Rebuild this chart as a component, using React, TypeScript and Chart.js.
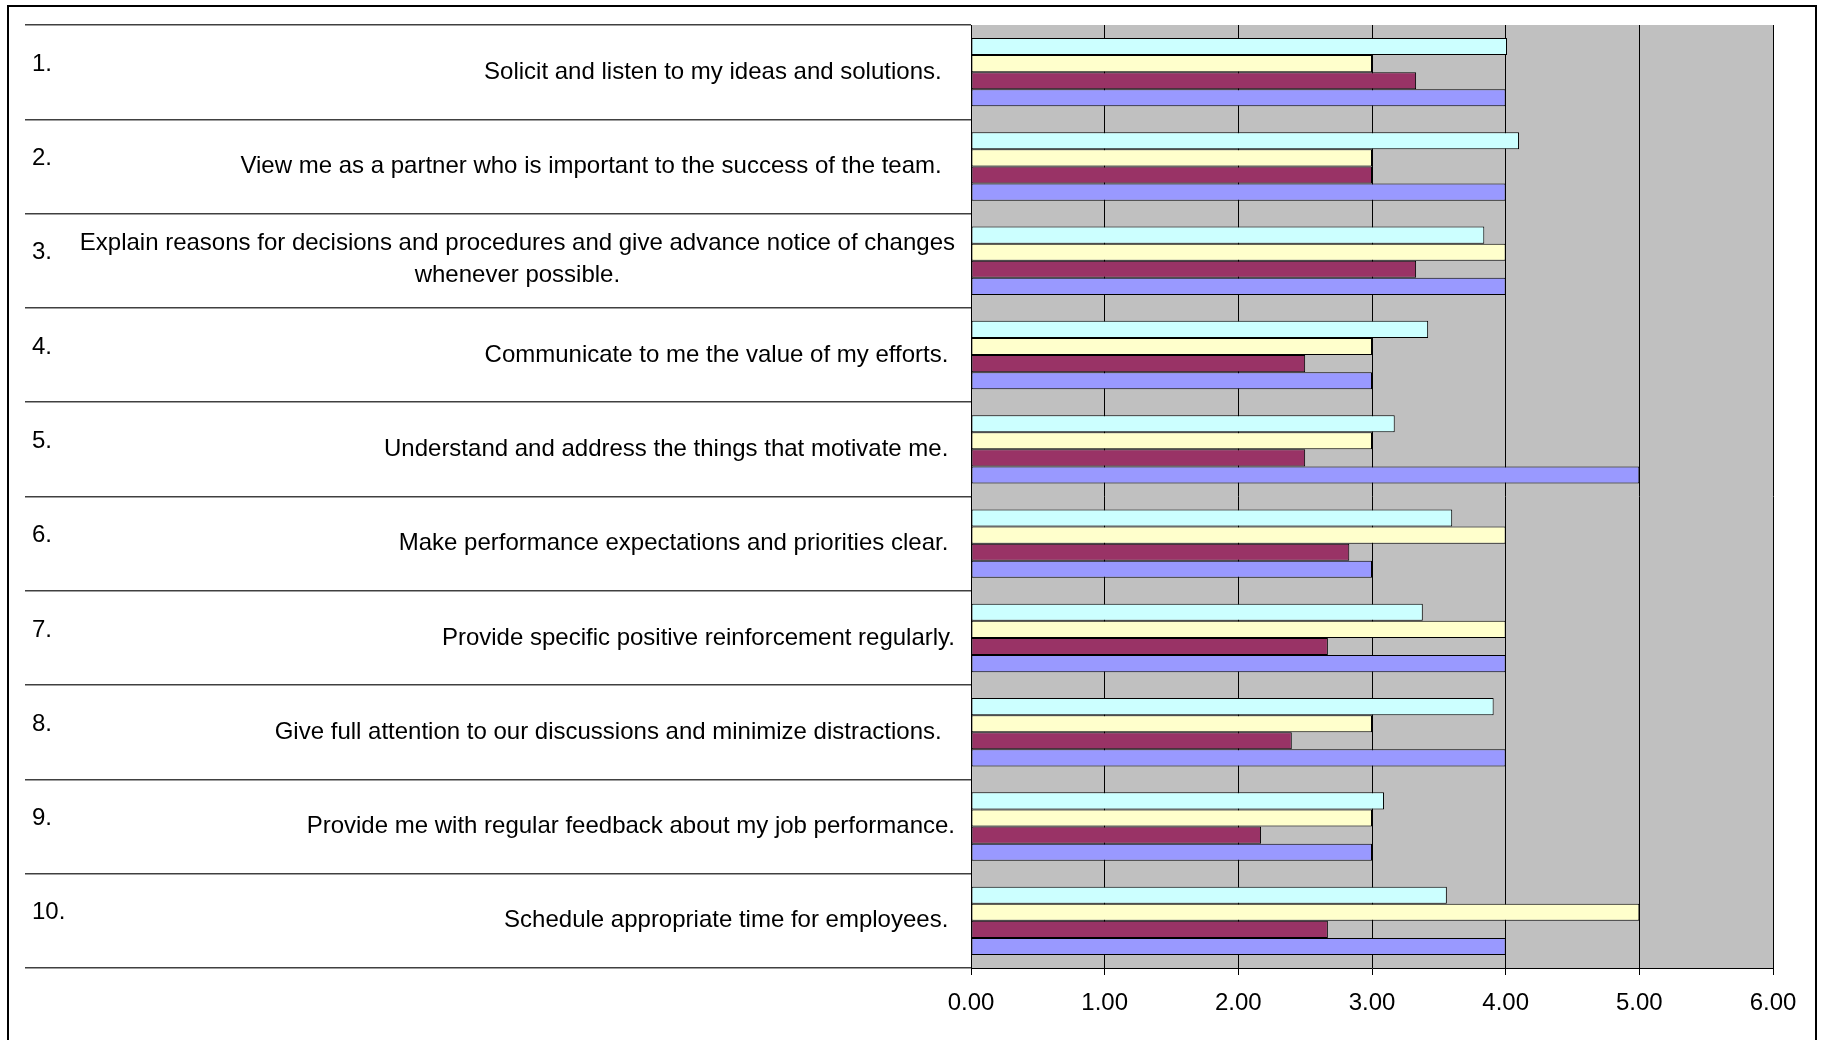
import { useEffect, useRef } from "react";
import { Chart, registerables } from "chart.js";

Chart.register(...registerables);

// Survey statements (numbered), one array of lines per item
const itemNumbers = ["1.", "2.", "3.", "4.", "5.", "6.", "7.", "8.", "9.", "10."];
const statements: string[][] = [
  ["Solicit and listen to my ideas and solutions.  "],
  ["View me as a partner who is important to the success of the team.  "],
  [
    "Explain reasons for decisions and procedures and give advance notice of changes",
    "whenever possible.",
  ],
  ["Communicate to me the value of my efforts. "],
  ["Understand and address the things that motivate me. "],
  ["Make performance expectations and priorities clear. "],
  ["Provide specific positive reinforcement regularly."],
  ["Give full attention to our discussions and minimize distractions.  "],
  ["Provide me with regular feedback about my job performance."],
  ["Schedule appropriate time for employees. "],
];

// Average ratings per group, in drawing order (top bar to bottom bar)
const seriesA = [4.01, 4.1, 3.84, 3.42, 3.17, 3.6, 3.38, 3.91, 3.09, 3.56];
const seriesB = [3.0, 3.0, 4.0, 3.0, 3.0, 4.0, 4.0, 3.0, 3.0, 5.0];
const seriesC = [3.33, 3.0, 3.33, 2.5, 2.5, 2.83, 2.67, 2.4, 2.17, 2.67];
const seriesD = [4.0, 4.0, 4.0, 3.0, 5.0, 3.0, 4.0, 4.0, 3.0, 4.0];

const seriesNames = ["Series1", "Series2", "Series3", "Series4"];
const seriesColors = ["#CCFFFF", "#FFFFCC", "#993366", "#9999FF"];

// Rating scale
const scaleMin = 0;
const scaleMax = 6;
const scaleStep = 1;

const FONT_FAMILY = "'Liberation Sans', Arial, sans-serif";
const W = 1822;
const H = 1040;

const plotBackground = {
  id: "plotBackground",
  beforeDraw(chart: any) {
    const { ctx, chartArea } = chart;
    ctx.save();
    ctx.fillStyle = "#C0C0C0";
    ctx.fillRect(
      chartArea.left,
      chartArea.top,
      chartArea.right - chartArea.left,
      chartArea.bottom - chartArea.top
    );
    ctx.restore();
  },
};

const statementLabels = {
  id: "statementLabels",
  afterDraw(chart: any) {
    const { ctx, chartArea } = chart;
    const yScale = chart.scales.y;
    const textRight = chartArea.left - 16;
    const lineHeight = 32;
    ctx.save();
    ctx.font = `24px ${FONT_FAMILY}`;
    ctx.fillStyle = "#000000";
    ctx.textBaseline = "middle";
    statements.forEach((lines, i) => {
      const cy = yScale.getPixelForValue(i);
      ctx.textAlign = "left";
      ctx.fillText(itemNumbers[i], 32, cy - 8);
      const blockWidth = Math.max(...lines.map((l) => ctx.measureText(l).width));
      const firstY = cy - ((lines.length - 1) * lineHeight) / 2 - (lines.length > 1 ? 1 : 0);
      ctx.textAlign = "center";
      lines.forEach((line, k) => {
        ctx.fillText(line, textRight - blockWidth / 2, firstY + k * lineHeight);
      });
    });
    // outer frame
    ctx.strokeStyle = "#000000";
    ctx.lineWidth = 2;
    ctx.strokeRect(8, 6, 1808, H + 20);
    ctx.restore();
  },
};

export default function App() {
  const canvasRef = useRef<HTMLCanvasElement | null>(null);

  useEffect(() => {
    const canvas = canvasRef.current;
    if (!canvas) return;
    const datasets = [seriesA, seriesB, seriesC, seriesD].map((values, i) => ({
      label: seriesNames[i],
      data: values,
      backgroundColor: seriesColors[i],
      borderColor: "#000000",
      borderWidth: 1,
      borderSkipped: false as const,
      categoryPercentage: 0.725,
      barPercentage: 1.0,
    }));

    const chart = new Chart(canvas, {
      type: "bar",
      data: { labels: itemNumbers, datasets },
      options: {
        indexAxis: "y",
        responsive: false,
        animation: false,
        devicePixelRatio: 1,
        layout: { padding: { top: 25, right: 49, bottom: 0, left: 0 } },
        plugins: {
          legend: { display: false },
          tooltip: { enabled: false },
          title: { display: false },
        },
        scales: {
          x: {
            type: "linear",
            min: scaleMin,
            max: scaleMax,
            afterFit: (s: any) => {
              s.height = 72;
            },
            ticks: {
              stepSize: scaleStep,
              color: "#000000",
              font: { family: FONT_FAMILY, size: 24 },
              padding: 14,
              callback: (v: any) => Number(v).toFixed(2),
            },
            grid: {
              color: "#000000",
              lineWidth: 1,
              tickLength: 7,
              drawOnChartArea: true,
            },
            border: { display: true, color: "#000000", width: 1 },
          },
          y: {
            type: "category",
            afterFit: (s: any) => {
              s.width = 971;
            },
            ticks: { display: false },
            grid: {
              offset: true,
              drawOnChartArea: false,
              tickLength: 946,
              color: "#404040",
              lineWidth: 1.5,
            },
            border: { display: true, color: "#000000", width: 1 },
          },
        },
      },
      plugins: [plotBackground, statementLabels],
    });

    return () => chart.destroy();
  }, []);

  return (
    <div style={{ position: "fixed", left: 0, top: 0, width: W, height: H, background: "#ffffff" }}>
      <canvas ref={canvasRef} width={W} height={H} style={{ display: "block", width: W, height: H }} />
    </div>
  );
}
